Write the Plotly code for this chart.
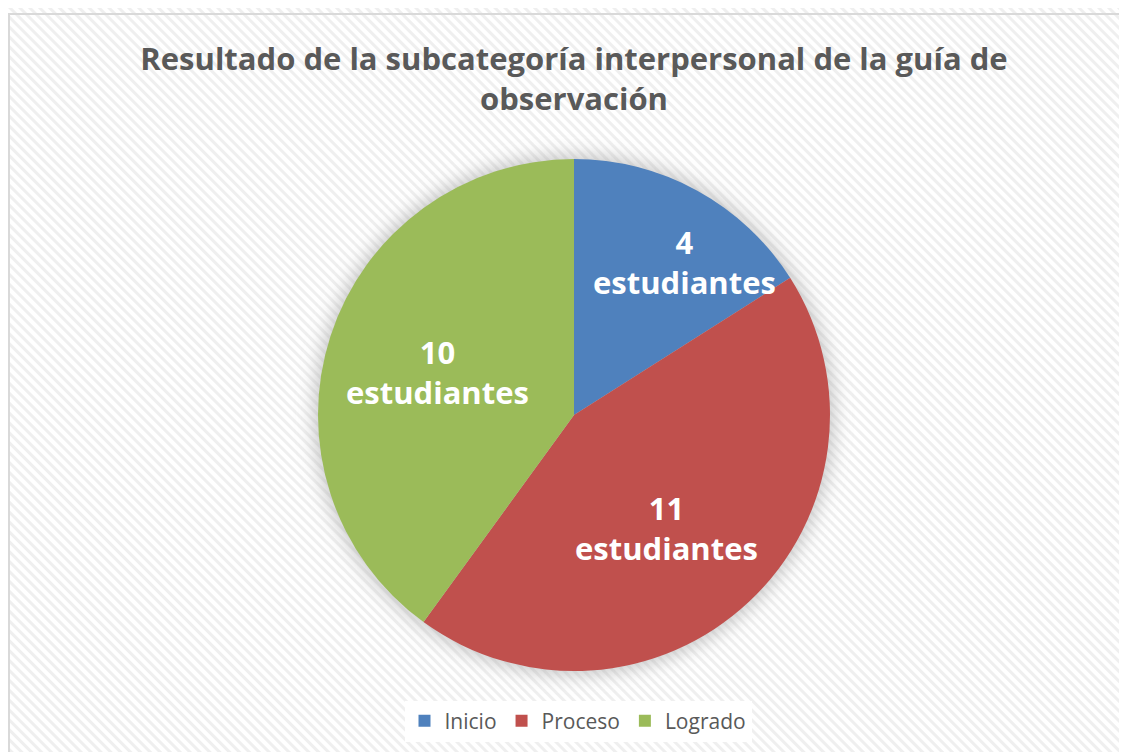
import base64
import math
import plotly.graph_objects as go

categories = ["Inicio", "Proceso", "Logrado"]
values = [4, 11, 10]
label_texts = ["4<br>estudiantes", "11<br>estudiantes", "10<br>estudiantes"]
colors = ["#4F81BD", "#C0504D", "#9BBB59"]
title_text = "Resultado de la subcategoría interpersonal de la guía de<br>observación"

W, H = 1127, 752
OFF = 8  # page body margin: figure is drawn 8px right/down in the window
CX, CY, R = 574 - OFF, 415 - OFF, 256  # pie centre in figure pixels

# label placement style (fraction of radius, angular nudge in degrees)
label_rfrac = [0.735, 0.57, 0.56]
label_nudge = [7, 4, -0.6]

# diagonal hatch background + soft shadow behind the pie
svg = f'''<svg xmlns="http://www.w3.org/2000/svg" width="{W}" height="{H}">
<defs><pattern id="p" width="7" height="7" patternUnits="userSpaceOnUse" patternTransform="rotate(-45)">
<rect width="7" height="7" fill="#ffffff"/><rect width="3" height="7" fill="#efefef"/></pattern>
<filter id="b" x="-20%" y="-20%" width="140%" height="140%"><feGaussianBlur stdDeviation="9"/></filter></defs>
<rect width="{W}" height="{H}" fill="url(#p)"/>
<circle cx="{CX}" cy="{CY}" r="{R + 4}" fill="#9a9a9a" fill-opacity="0.55" filter="url(#b)"/></svg>'''
src = "data:image/svg+xml;base64," + base64.b64encode(svg.encode()).decode()

fig = go.Figure()
fig.add_trace(go.Pie(
    labels=categories, values=values, text=label_texts,
    textinfo="none", textposition="none",
    sort=False, direction="clockwise", rotation=0,
    marker=dict(colors=colors, line=dict(color="white", width=0)),
    domain=dict(x=[(CX - R) / W, (CX + R) / W],
                y=[(H - CY - R) / H, (H - CY + R) / H]),
    hoverinfo="label+value",
))

# slice labels placed at each slice's mid-angle, derived from the values
total = sum(values)
annotations = []
cum = 0
for v, t, rf, nd in zip(values, label_texts, label_rfrac, label_nudge):
    mid = (cum + v / 2) / total * 360 + nd
    cum += v
    a = math.radians(mid)
    px = CX + rf * R * math.sin(a)
    py = CY - rf * R * math.cos(a)
    annotations.append(dict(x=px / W, y=1 - py / H, xref="paper", yref="paper", text=t,
                            showarrow=False, xanchor="center", yanchor="middle",
                            font=dict(family="Open Sans", size=31, color="white", weight="bold")))

fig.update_layout(
    width=W, height=H,
    margin=dict(l=0, r=0, t=0, b=0),
    paper_bgcolor="white",
    annotations=annotations,
    title=dict(text=title_text, x=(574 - OFF) / W, xanchor="center", y=1 - (70 - OFF) / H, yanchor="top",
               font=dict(family="Open Sans", size=31, color="#595959", weight="bold")),
    legend=dict(orientation="h", x=570 / W, xanchor="center", y=1 - 713 / H, yanchor="middle",
                bgcolor="white", font=dict(family="Open Sans", size=21, color="#595959"),
                itemsizing="constant", itemwidth=30),
    images=[dict(source=src, xref="paper", yref="paper", x=0, y=1, sizex=1, sizey=1,
                 sizing="stretch", layer="below", xanchor="left", yanchor="top")],
    shapes=[dict(type="rect", xref="paper", yref="paper", x0=1 / W, y0=-0.01, x1=1.01, y1=1 - (14 - OFF) / H,
                 line=dict(color="#D9D9D9", width=2), fillcolor="rgba(0,0,0,0)", layer="above")],
)

fig.write_html("out.html")
